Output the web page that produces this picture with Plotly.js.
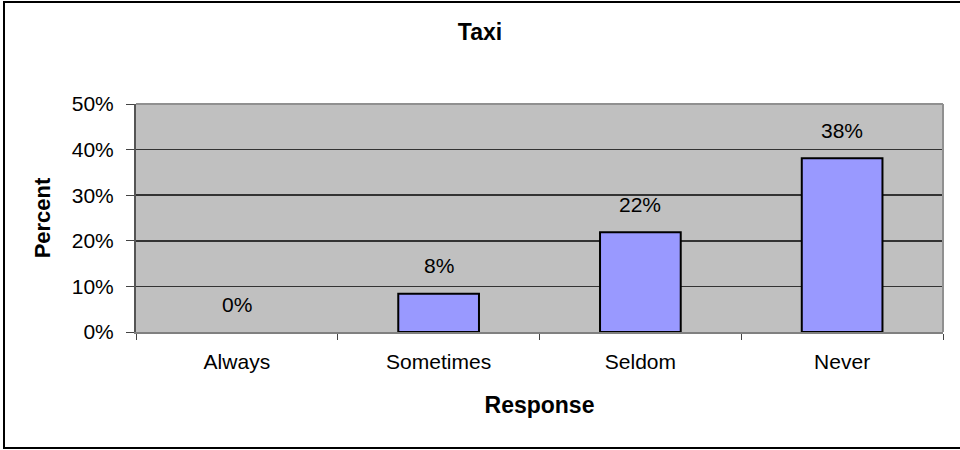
<!DOCTYPE html>
<html>
<head>
<meta charset="utf-8">
<script src="https://cdn.plot.ly/plotly-3.0.1.min.js"></script>
<style>
html,body{margin:0;padding:0;background:#fff;}
#wrap{position:relative;width:960px;height:450px;overflow:hidden;}
#chart{width:960px;height:450px;}
#frame{position:absolute;left:3px;top:1px;width:970px;height:444px;border:2px solid #000;pointer-events:none;}
</style>
</head>
<body>
<div id="wrap"><div id="chart"></div><div id="frame"></div></div>
<script>
const categories = ["Always", "Sometimes", "Seldom", "Never"];
const percentValues = [0, 8.4, 21.9, 38.1];
const yTickValues = [0, 10, 20, 30, 40, 50];
const yTickLabels = ["0%", "10%", "20%", "30%", "40%", "50%"];
const chartTitle = "Taxi";
const xTitle = "Response";
const yTitle = "Percent";

const font = "Liberation Sans, Arial, sans-serif";

const annotations = categories.map((c, i) => ({
  x: c, y: percentValues[i], xref: "x", yref: "y",
  text: Math.round(percentValues[i]) + "%",
  showarrow: false, yshift: 28,
  font: {family: font, size: 21, color: "#000"}
}));

const trace = {
  type: "bar",
  x: categories,
  y: percentValues,
  marker: {color: "#9999FF", line: {color: "#000", width: percentValues.map(v => v > 0 ? 2 : 0)}},
  hoverinfo: "skip"
};

const layout = {
  width: 960, height: 450,
  margin: {l: 136, r: 17, t: 104, b: 118},
  paper_bgcolor: "#fff",
  plot_bgcolor: "#C0C0C0",
  showlegend: false,
  bargap: 0.6,
  title: {text: "<b>" + chartTitle + "</b>", x: 0.5, xanchor: "center", y: 0.93, yanchor: "middle",
          font: {family: font, size: 23, color: "#000"}},
  xaxis: {
    type: "category",
    tickson: "boundaries",
    ticks: "outside", ticklen: 6, tickcolor: "#444", tickwidth: 1,
    showline: true, linecolor: "#808080", linewidth: 2, mirror: false,
    showgrid: false,
    ticklabelstandoff: 10,
    tickfont: {family: font, size: 21, color: "#000"},
    title: {text: "<b>" + xTitle + "</b>", standoff: 25, font: {family: font, size: 23, color: "#000"}}
  },
  yaxis: {
    range: [0, 50],
    tickvals: yTickValues, ticktext: yTickLabels,
    ticks: "outside", ticklen: 8, tickcolor: "#444", tickwidth: 1,
    showline: true, linecolor: "#555", linewidth: 2,
    showgrid: true, gridcolor: "#333", gridwidth: 1.5,
    zeroline: false,
    ticklabelstandoff: 8,
    tickfont: {family: font, size: 21, color: "#000"},
    title: {text: "<b>" + yTitle + "</b>", standoff: 15, font: {family: font, size: 22, color: "#000"}}
  },
  shapes: [
    {type: "line", xref: "paper", yref: "paper", x0: 1, x1: 1, y0: 0, y1: 1, line: {color: "#909090", width: 2}},
    {type: "line", xref: "paper", yref: "paper", x0: 0, x1: 1, y0: 1, y1: 1, line: {color: "#909090", width: 2}}
  ],
  annotations: annotations
};

Plotly.newPlot("chart", [trace], layout, {staticPlot: true, displayModeBar: false});
</script>
</body>
</html>
